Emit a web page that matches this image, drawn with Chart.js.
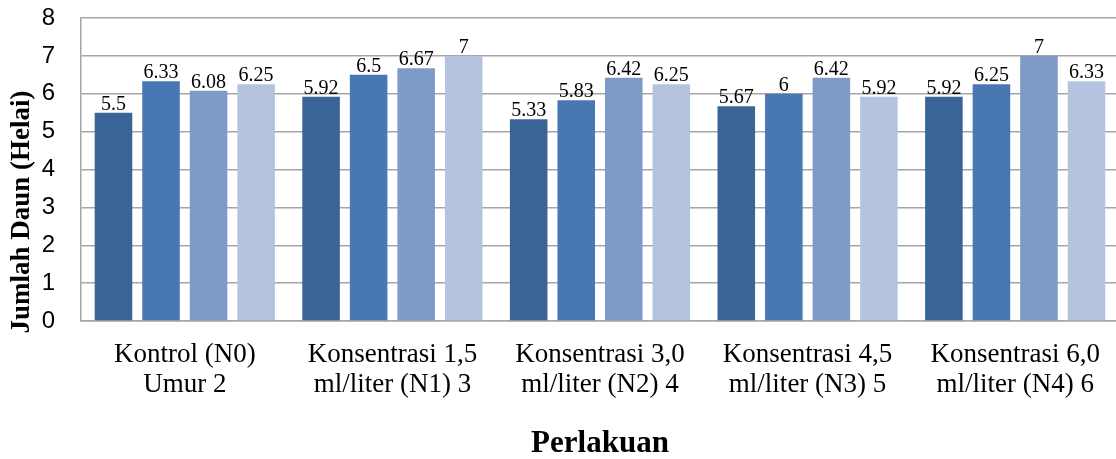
<!DOCTYPE html>
<html>
<head>
<meta charset="utf-8">
<script src="https://cdn.jsdelivr.net/npm/chart.js@4/dist/chart.umd.min.js"></script>
<style>
  html, body { margin: 0; padding: 0; background: #fff; overflow: hidden; }
  #wrap { width: 1116px; height: 459px; overflow: hidden; }
</style>
</head>
<body>
<div id="wrap"><canvas id="daunChart" width="1122" height="459"></canvas></div>
<script>
const categories = [
  ["Kontrol (N0)", "Umur 2"],
  ["Konsentrasi 1,5", "ml/liter (N1) 3"],
  ["Konsentrasi 3,0", "ml/liter (N2) 4"],
  ["Konsentrasi 4,5", "ml/liter (N3) 5"],
  ["Konsentrasi 6,0", "ml/liter (N4) 6"]
];
const series1 = [5.5, 5.92, 5.33, 5.67, 5.92];
const series2 = [6.33, 6.5, 5.83, 6, 6.25];
const series3 = [6.08, 6.67, 6.42, 6.42, 7];
const series4 = [6.25, 7, 6.25, 5.92, 6.33];
const yTicks = [0, 1, 2, 3, 4, 5, 6, 7, 8];

const serif = "'Liberation Serif', 'Times New Roman', serif";
const sans = "'Liberation Sans', Arial, sans-serif";

// value labels above each bar
const barLabels = {
  id: "barLabels",
  afterDatasetsDraw(chart) {
    const ctx = chart.ctx;
    ctx.save();
    ctx.font = "20px " + serif;
    ctx.fillStyle = "#000";
    ctx.textAlign = "center";
    ctx.textBaseline = "alphabetic";
    chart.data.datasets.forEach((ds, i) => {
      chart.getDatasetMeta(i).data.forEach((bar, j) => {
        ctx.fillText(String(ds.data[j]), bar.x, bar.y - 3);
      });
    });
    ctx.restore();
  }
};

// y axis title (sits a bit low, like the original)
const yTitle = {
  id: "yTitle",
  afterDraw(chart) {
    const ctx = chart.ctx;
    ctx.save();
    ctx.translate(22, 212);
    ctx.rotate(-Math.PI / 2);
    ctx.font = "bold 27px " + serif;
    ctx.fillStyle = "#000";
    ctx.textAlign = "center";
    ctx.textBaseline = "middle";
    ctx.fillText("Jumlah Daun (Helai)", 0, 0);
    ctx.restore();
  }
};

const ctx = document.getElementById("daunChart").getContext("2d");

new Chart(ctx, {
  type: "bar",
  data: {
    labels: categories,
    datasets: [
      { label: "Series 1", data: series1, backgroundColor: "#3B6496" },
      { label: "Series 2", data: series2, backgroundColor: "#4778B3" },
      { label: "Series 3", data: series3, backgroundColor: "#7E9BC8" },
      { label: "Series 4", data: series4, backgroundColor: "#B4C4DF" }
    ]
  },
  options: {
    responsive: false,
    animation: false,
    devicePixelRatio: 1,
    categoryPercentage: 0.916,
    barPercentage: 0.79,
    layout: { padding: { top: 18, right: 3, bottom: 0, left: 0 } },
    plugins: {
      legend: { display: false },
      tooltip: { enabled: false }
    },
    scales: {
      x: {
        grid: { display: false, drawTicks: false },
        border: { color: "#A6A6A6", width: 1.5 },
        ticks: {
          color: "#000",
          font: { family: serif, size: 27, lineHeight: 1.11 },
          padding: 19,
          maxRotation: 0,
          autoSkip: false
        },
        title: {
          display: true,
          text: "Perlakuan",
          color: "#000",
          font: { family: serif, size: 31, weight: "bold", lineHeight: 1 },
          padding: 0
        },
        afterFit(scale) { scale.height = 138; }
      },
      y: {
        min: 0,
        max: 8,
        afterBuildTicks(scale) { scale.ticks = yTicks.map(v => ({ value: v })); },
        grid: { color: "#A6A6A6", lineWidth: 1.5, drawTicks: false },
        border: { color: "#A6A6A6", width: 1.5 },
        ticks: {
          color: "#000",
          font: { family: sans, size: 24 },
          padding: 26
        },
        afterFit(scale) {
          scale.width = 81;
          scale.paddingTop = 0;
          scale.paddingBottom = 0;
        }
      }
    }
  },
  plugins: [barLabels, yTitle]
});
</script>
</body>
</html>
